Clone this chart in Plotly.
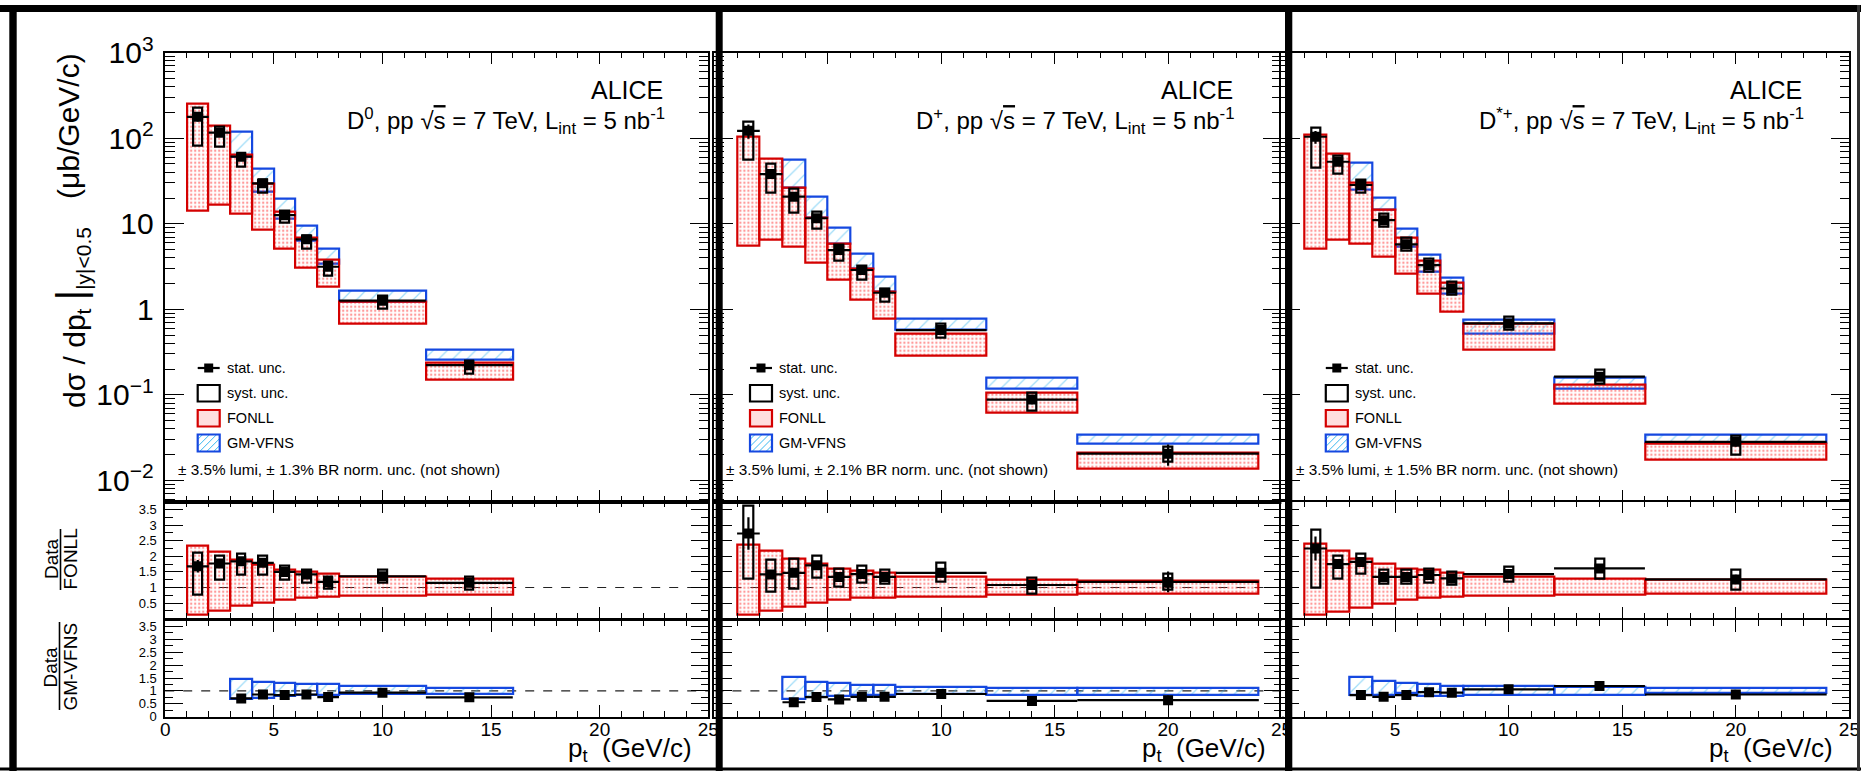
import plotly.graph_objects as go

W, H = 1861, 771
FONT = "Liberation Sans, Arial, sans-serif"

# ---------------- D0 ----------------
d0_pt_lo = [1, 2, 3, 4, 5, 6, 7, 8, 12]
d0_pt_hi = [2, 3, 4, 5, 6, 7, 8, 12, 16]
d0_xsec = [178, 116, 60.8, 29.7, 12.6, 6.58, 3.14, 1.26, 0.222]
d0_stat_rel = [0.12, 0.07, 0.06, 0.06, 0.06, 0.07, 0.08, 0.08, 0.12]
d0_syst_hi = [230, 136, 66.5, 32.4, 14.2, 7.24, 3.6, 1.43, 0.25]
d0_syst_lo = [81, 80, 46.5, 23, 10.3, 5.15, 2.5, 1.02, 0.175]
d0_fonll_hi = [251, 141.6, 64.9, 29.7, 13.7, 6.85, 3.84, 1.22, 0.239]
d0_fonll_lo = [14.1, 16.6, 13.2, 8.6, 5.15, 3.06, 1.83, 0.67, 0.149]
d0_gm_first_bin = 2
d0_gm_hi = [119, 44.5, 19.6, 9.5, 5.15, 1.65, 0.34]
d0_gm_lo = [60.8, 23.7, 11.6, 6.3, 3.44, 1.22, 0.255]
d0_r_fonll = [1.68, 1.77, 1.84, 1.79, 1.50, 1.42, 1.18, 1.36, 1.15]
d0_r_fonll_syst_hi = [2.11, 2.03, 2.07, 2.03, 1.69, 1.58, 1.36, 1.58, 1.34]
d0_r_fonll_syst_lo = [0.76, 1.24, 1.42, 1.42, 1.24, 1.15, 0.97, 1.15, 0.94]
d0_r_fonll_band_hi = [2.35, 2.16, 1.90, 1.74, 1.58, 1.52, 1.43, 1.34, 1.28]
d0_r_fonll_band_lo = [0.12, 0.25, 0.41, 0.52, 0.62, 0.68, 0.70, 0.73, 0.76]
d0_r_gm = [0.71, 0.86, 0.84, 0.86, 0.76, 0.93, 0.75]
d0_r_gm_band_hi = [1.46, 1.35, 1.31, 1.26, 1.25, 1.20, 1.13]
d0_r_gm_band_lo = [0.67, 0.73, 0.80, 0.84, 0.86, 0.89, 0.88]

# ---------------- D+ ----------------
dp_pt_lo = [1, 2, 3, 4, 5, 6, 7, 8, 12, 16]
dp_pt_hi = [2, 3, 4, 5, 6, 7, 8, 12, 16, 24]
dp_xsec = [122, 38.1, 20.7, 11.6, 4.92, 2.88, 1.56, 0.571, 0.088, 0.0205]
dp_stat_rel = [0.19, 0.10, 0.08, 0.07, 0.07, 0.07, 0.08, 0.08, 0.12, 0.28]
dp_syst_hi = [156, 50.8, 25.9, 13.8, 5.64, 3.23, 1.75, 0.684, 0.106, 0.0247]
dp_syst_lo = [56.6, 23, 13.5, 8.83, 3.69, 2.24, 1.22, 0.469, 0.065, 0.0164]
dp_fonll_hi = [104, 58.2, 26.7, 11.9, 5.8, 3.0, 1.6, 0.523, 0.105, 0.021]
dp_fonll_lo = [5.48, 6.58, 5.38, 3.54, 2.2, 1.31, 0.78, 0.284, 0.0622, 0.0138]
dp_gm_first_bin = 2
dp_gm_hi = [55.6, 20.7, 8.97, 4.43, 2.4, 0.767, 0.158, 0.0338]
dp_gm_lo = [26.7, 11.9, 5.8, 3.0, 1.6, 0.571, 0.119, 0.0265]
dp_r_fonll = [2.73, 1.42, 1.47, 1.71, 1.34, 1.43, 1.34, 1.47, 1.08, 1.18]
dp_r_fonll_syst_hi = [3.61, 1.88, 1.92, 2.01, 1.60, 1.69, 1.58, 1.79, 1.32, 1.45]
dp_r_fonll_syst_lo = [1.27, 0.85, 0.97, 1.30, 1.04, 1.15, 1.11, 1.20, 0.79, 0.94]
dp_r_fonll_band_hi = [2.38, 2.17, 1.93, 1.75, 1.60, 1.53, 1.47, 1.34, 1.26, 1.21]
dp_r_fonll_band_lo = [0.12, 0.26, 0.38, 0.51, 0.60, 0.67, 0.68, 0.72, 0.78, 0.81]
dp_r_gm = [0.56, 0.76, 0.67, 0.77, 0.77, 0.88, 0.61, 0.64]
dp_r_gm_band_hi = [1.55, 1.35, 1.29, 1.24, 1.22, 1.16, 1.10, 1.10]
dp_r_gm_band_lo = [0.70, 0.75, 0.80, 0.84, 0.84, 0.88, 0.84, 0.84]

# ---------------- D*+ ----------------
ds_pt_lo = [1, 2, 3, 4, 5, 6, 7, 8, 12, 16]
ds_pt_hi = [2, 3, 4, 5, 6, 7, 8, 12, 16, 24]
ds_xsec = [104, 53.1, 28.4, 11.0, 5.74, 3.29, 1.75, 0.684, 0.163, 0.0282]
ds_stat_rel = [0.17, 0.07, 0.06, 0.06, 0.06, 0.06, 0.07, 0.07, 0.08, 0.12]
ds_syst_hi = [131, 62, 33, 13, 6.86, 3.94, 2.1, 0.817, 0.195, 0.0329]
ds_syst_lo = [45.2, 38.8, 23.1, 9.2, 4.83, 2.75, 1.47, 0.571, 0.136, 0.0197]
ds_fonll_hi = [109, 65.3, 30.2, 14.5, 6.93, 3.66, 2.04, 0.684, 0.13, 0.027]
ds_fonll_lo = [5.15, 6.58, 5.8, 4.1, 2.58, 1.53, 0.935, 0.34, 0.078, 0.0172]
ds_gm_first_bin = 2
ds_gm_hi = [52.3, 20, 8.67, 4.31, 2.36, 0.762, 0.158, 0.0338]
ds_gm_lo = [25.2, 14.5, 5.38, 2.75, 1.53, 0.523, 0.117, 0.0275]
ds_r_fonll = [2.25, 1.75, 1.82, 1.34, 1.34, 1.40, 1.29, 1.43, 1.61, 1.26]
ds_r_fonll_syst_hi = [2.86, 2.03, 2.07, 1.58, 1.58, 1.61, 1.50, 1.68, 1.91, 1.58]
ds_r_fonll_syst_lo = [1.00, 1.29, 1.45, 1.11, 1.11, 1.15, 1.08, 1.18, 1.29, 0.92]
ds_r_fonll_band_hi = [2.41, 2.17, 1.93, 1.75, 1.61, 1.56, 1.47, 1.36, 1.28, 1.26]
ds_r_fonll_band_lo = [0.12, 0.22, 0.36, 0.49, 0.62, 0.68, 0.70, 0.73, 0.76, 0.79]
ds_r_gm = [0.84, 0.77, 0.84, 0.95, 0.93, 1.06, 1.19, 0.86]
ds_r_gm_band_hi = [1.55, 1.38, 1.31, 1.25, 1.20, 1.19, 1.16, 1.10]
ds_r_gm_band_lo = [0.84, 0.84, 0.90, 0.80, 0.80, 0.84, 0.84, 0.90]

# panel texts
species_labels = ["D<sup>0</sup>", "D<sup>+</sup>", "D<sup>*+</sup>"]
br_unc = ["1.3%", "2.1%", "1.5%"]
x_tick_vals = [0, 5, 10, 15, 20, 25]

panels = [
    dict(lo=d0_pt_lo, hi=d0_pt_hi, xsec=d0_xsec, stat=d0_stat_rel, shi=d0_syst_hi, slo=d0_syst_lo,
         fhi=d0_fonll_hi, flo=d0_fonll_lo, g0=d0_gm_first_bin, ghi=d0_gm_hi, glo=d0_gm_lo,
         rf=d0_r_fonll, rfshi=d0_r_fonll_syst_hi, rfslo=d0_r_fonll_syst_lo,
         rfbhi=d0_r_fonll_band_hi, rfblo=d0_r_fonll_band_lo,
         rg=d0_r_gm, rgbhi=d0_r_gm_band_hi, rgblo=d0_r_gm_band_lo),
    dict(lo=dp_pt_lo, hi=dp_pt_hi, xsec=dp_xsec, stat=dp_stat_rel, shi=dp_syst_hi, slo=dp_syst_lo,
         fhi=dp_fonll_hi, flo=dp_fonll_lo, g0=dp_gm_first_bin, ghi=dp_gm_hi, glo=dp_gm_lo,
         rf=dp_r_fonll, rfshi=dp_r_fonll_syst_hi, rfslo=dp_r_fonll_syst_lo,
         rfbhi=dp_r_fonll_band_hi, rfblo=dp_r_fonll_band_lo,
         rg=dp_r_gm, rgbhi=dp_r_gm_band_hi, rgblo=dp_r_gm_band_lo),
    dict(lo=ds_pt_lo, hi=ds_pt_hi, xsec=ds_xsec, stat=ds_stat_rel, shi=ds_syst_hi, slo=ds_syst_lo,
         fhi=ds_fonll_hi, flo=ds_fonll_lo, g0=ds_gm_first_bin, ghi=ds_gm_hi, glo=ds_gm_lo,
         rf=ds_r_fonll, rfshi=ds_r_fonll_syst_hi, rfslo=ds_r_fonll_syst_lo,
         rfbhi=ds_r_fonll_band_hi, rfblo=ds_r_fonll_band_lo,
         rg=ds_r_gm, rgbhi=ds_r_gm_band_hi, rgblo=ds_r_gm_band_lo),
]

# ---------------- geometry (pixels) ----------------
PANEL_X = [(165.2, 708.3), (714.4, 1281.5), (1281.4, 1849.4)]
ROW_Y = [(52.7, 501.7), (501.7, 618.7), (620.0, 716.7)]
LEG_BOX_X = [197.7, 750.0, 1325.8]
NORM_X = [176.0, 724.4, 1293.6]
ALICE_RIGHT = [664.5, 1234.5, 1803.5]
BAR_X = [(9.3, 16.7), (715.7, 722.7), (1285.0, 1292.3)]

RED_LINE = "#d40000"
BLUE_LINE = "#1548e0"


def fx(px):
    return px / W


def fy(py):
    return 1 - py / H


def axid(k):
    return ("x" if k == 1 else f"x{k}"), ("y" if k == 1 else f"y{k}")


fig = go.Figure()


def add_band(k, lo_e, hi_e, lo, hi, kind):
    xa, ya = axid(k)
    centers = [(a + b) / 2 for a, b in zip(lo_e, hi_e)]
    widths = [b - a for a, b in zip(lo_e, hi_e)]
    heights = [h - l for l, h in zip(lo, hi)]
    if kind == "fonll":
        pattern = dict(shape=".", fgcolor="#ff3030", bgcolor="rgba(0,0,0,0)", size=4, solidity=0.28)
        line = dict(color=RED_LINE, width=2.2)
    else:
        pattern = dict(shape="/", fgcolor="#3ab8f0", bgcolor="rgba(0,0,0,0)", size=10, solidity=0.12)
        line = dict(color=BLUE_LINE, width=2.2)
    fig.add_trace(go.Bar(x=centers, y=heights, base=lo, width=widths,
                         marker=dict(color="rgba(0,0,0,0)", pattern=pattern, line=line),
                         xaxis=xa, yaxis=ya, showlegend=False, hoverinfo="skip"))


def add_syst(k, lo_e, hi_e, lo, hi):
    xa, ya = axid(k)
    centers = [(a + b) / 2 for a, b in zip(lo_e, hi_e)]
    heights = [h - l for l, h in zip(lo, hi)]
    fig.add_trace(go.Bar(x=centers, y=heights, base=lo, width=0.4,
                         marker=dict(color="rgba(0,0,0,0)", line=dict(color="black", width=2.2)),
                         xaxis=xa, yaxis=ya, showlegend=False, hoverinfo="skip"))


def add_points(k, lo_e, hi_e, vals, errs):
    xa, ya = axid(k)
    centers = [(a + b) / 2 for a, b in zip(lo_e, hi_e)]
    half = [(b - a) / 2 for a, b in zip(lo_e, hi_e)]
    fig.add_trace(go.Scatter(x=centers, y=vals, mode="markers",
                             marker=dict(symbol="square", size=10, color="black"),
                             error_x=dict(type="data", array=half, thickness=2.2, width=0, color="black"),
                             error_y=dict(type="data", array=errs, thickness=2.2, width=0, color="black"),
                             xaxis=xa, yaxis=ya, showlegend=False, hoverinfo="skip"))


for p, d in enumerate(panels):
    k_top, k_r1, k_r2 = 3 * p + 1, 3 * p + 2, 3 * p + 3
    g0 = d["g0"]
    glo_e, ghi_e = d["lo"][g0:], d["hi"][g0:]
    # spectrum
    add_band(k_top, glo_e, ghi_e, d["glo"], d["ghi"], "gm")
    add_band(k_top, d["lo"], d["hi"], d["flo"], d["fhi"], "fonll")
    add_syst(k_top, d["lo"], d["hi"], d["slo"], d["shi"])
    add_points(k_top, d["lo"], d["hi"], d["xsec"], [v * r for v, r in zip(d["xsec"], d["stat"])])
    # data / FONLL
    add_band(k_r1, d["lo"], d["hi"], d["rfblo"], d["rfbhi"], "fonll")
    add_syst(k_r1, d["lo"], d["hi"], d["rfslo"], d["rfshi"])
    add_points(k_r1, d["lo"], d["hi"], d["rf"], [v * r for v, r in zip(d["rf"], d["stat"])])
    # data / GM-VFNS
    add_band(k_r2, glo_e, ghi_e, d["rgblo"], d["rgbhi"], "gm")
    add_points(k_r2, glo_e, ghi_e, d["rg"], [v * r for v, r in zip(d["rg"], d["stat"][g0:])])

layout = dict(width=W, height=H, autosize=False,
              margin=dict(l=0, r=0, t=0, b=0, pad=0, autoexpand=False),
              paper_bgcolor="white", plot_bgcolor="white", barmode="overlay", bargap=0,
              font=dict(family=FONT, color="black"), showlegend=False)

for p in range(3):
    for r in range(3):
        k = 3 * p + r + 1
        xname = "xaxis" if k == 1 else f"xaxis{k}"
        yname = "yaxis" if k == 1 else f"yaxis{k}"
        xa, ya = axid(k)
        show_x = (r == 2)
        xticktext = [str(v) for v in x_tick_vals]
        if p > 0:
            xticktext[0] = ""
        layout[xname] = dict(
            domain=[fx(PANEL_X[p][0]), fx(PANEL_X[p][1])], anchor=ya, range=[0, 25],
            automargin=False,
            showline=True, linecolor="black", linewidth=1.5, mirror="ticks",
            ticks="inside", ticklen=12, tickwidth=1.3, tickcolor="black",
            tickmode="array", tickvals=x_tick_vals, ticktext=xticktext,
            minor=dict(ticks="inside", ticklen=6, tickwidth=1.2, tickcolor="black",
                       tickmode="linear", tick0=0, dtick=1),
            showticklabels=show_x, tickfont=dict(size=19, family=FONT),
            ticklabelstandoff=-5,
            showgrid=False, zeroline=False, fixedrange=True)
        ydom = [fy(ROW_Y[r][1]), fy(ROW_Y[r][0])]
        if r == 0:
            layout[yname] = dict(
                domain=ydom, anchor=xa, type="log", range=[-2.25, 3],
                automargin=False,
                showline=True, linecolor="black", linewidth=1.5, mirror="ticks",
                ticks="inside", ticklen=19, tickwidth=1.3, tickcolor="black",
                tickmode="linear", tick0=0, dtick=1, exponentformat="power",
                minor=dict(ticks="inside", ticklen=10, tickwidth=1.2, tickcolor="black"),
                showticklabels=(p == 0), tickfont=dict(size=24, family=FONT),
                ticklabelstandoff=5,
                showgrid=False, zeroline=False, fixedrange=True)
        else:
            tv = [0.5, 1, 1.5, 2, 2.5, 3, 3.5] if r == 1 else [0, 0.5, 1, 1.5, 2, 2.5, 3, 3.5]
            layout[yname] = dict(
                domain=ydom, anchor=xa, range=[0, 3.75],
                automargin=False,
                showline=True, linecolor="black", linewidth=1.5, mirror="ticks",
                ticks="inside", ticklen=18, tickwidth=1.3, tickcolor="black",
                tickmode="array", tickvals=tv,
                minor=dict(ticks="inside", ticklen=8, tickwidth=1.2, tickcolor="black",
                           tickmode="linear", tick0=0, dtick=0.25),
                showticklabels=(p == 0), tickfont=dict(size=13, family=FONT),
                ticklabelstandoff=4,
                showgrid=False, zeroline=False, fixedrange=True)

shapes = []
annotations = []


def rect_px(x0, y0, x1, y1, fill=None, line=None, lw=0, layer="above"):
    shapes.append(dict(type="rect", xref="paper", yref="paper",
                       x0=fx(x0), x1=fx(x1), y0=fy(y1), y1=fy(y0),
                       fillcolor=fill if fill else "rgba(0,0,0,0)",
                       line=dict(color=line if line else "rgba(0,0,0,0)", width=lw), layer=layer))


def line_px(x0, y0, x1, y1, color="black", width=1.5, dash="solid"):
    shapes.append(dict(type="line", xref="paper", yref="paper",
                       x0=fx(x0), x1=fx(x1), y0=fy(y0), y1=fy(y1),
                       line=dict(color=color, width=width, dash=dash), layer="above"))


def text_px(x, y, txt, size, xanchor="left", yanchor="middle", angle=0):
    annotations.append(dict(xref="paper", yref="paper", x=fx(x), y=fy(y), text=txt,
                            showarrow=False, xanchor=xanchor, yanchor=yanchor, textangle=angle,
                            font=dict(size=size, family=FONT, color="black")))


# dashed unity lines in the ratio pads
for p in range(3):
    for r in (1, 2):
        k = 3 * p + r + 1
        xa, ya = axid(k)
        shapes.append(dict(type="line", xref=f"{xa} domain", yref=ya, x0=0, x1=1, y0=1, y1=1,
                           line=dict(color="#222222", width=1.2, dash="dash"), layer="below"))

for p in range(3):
    xr = PANEL_X[p][1]
    text_px(ALICE_RIGHT[p], 90, "ALICE", 25, xanchor="right")
    text_px(ALICE_RIGHT[p] + 2, 121,
            f"{species_labels[p]}, pp √<span style='text-decoration:overline'>s</span> = 7 TeV, "
            f"L<sub>int</sub> = 5 nb<sup>-1</sup>", 24, xanchor="right")
    # legend
    bx = LEG_BOX_X[p]
    tx = bx + 27
    line_px(bx, 368, bx + 22, 368, width=2.2)
    rect_px(bx + 6.5, 363.5, bx + 15.5, 372.5, fill="black")
    text_px(tx, 368, "stat. unc.", 14.5)
    rect_px(bx, 385, bx + 22, 401.5, line="black", lw=2.2)
    text_px(tx, 393, "syst. unc.", 14.5)
    rect_px(bx, 410, bx + 22, 426.5, fill="rgba(255,160,160,0.35)", line=RED_LINE, lw=2.2)
    text_px(tx, 418.3, "FONLL", 14.5)
    x0b, x1b, ytb, ybb = bx, bx + 22, 434.5, 451.5
    for off in (-12, -5, 2, 9, 16):
        t0 = max(0.0, -off)
        t1 = min(x1b - (x0b + off), ybb - ytb)
        if t1 > t0:
            line_px(x0b + off + t0, ybb - t0, x0b + off + t1, ybb - t1, color="#3ab8f0", width=1)
    rect_px(x0b, ytb, x1b, ybb, line=BLUE_LINE, lw=2.2)
    text_px(tx, 443, "GM-VFNS", 14.5)
    text_px(NORM_X[p], 469.5, f"± 3.5% lumi, ± {br_unc[p]} BR norm. unc. (not shown)", 15.3)
    # x title
    text_px(xr - 14, 768, "p<sub>t</sub>  (GeV/c)", 26, xanchor="right", yanchor="bottom")

# y titles
text_px(69, 126, "(μb/GeV/c)", 30, xanchor="center", angle=-90)
text_px(72, 318, "dσ / dp<sub>t</sub> <span style='font-size:40px'>|</span><sub>|y|&lt;0.5</sub>",
        30, xanchor="center", angle=-90)
text_px(51, 559, "Data", 19, xanchor="center", angle=-90)
line_px(60.5, 529, 60.5, 590, width=1.6)
text_px(70, 559.5, "FONLL", 19, xanchor="center", angle=-90)
text_px(50, 667.5, "Data", 19, xanchor="center", angle=-90)
line_px(59.5, 622, 59.5, 710, width=1.6)
text_px(70, 666.5, "GM-VFNS", 19, xanchor="center", angle=-90)

# outer frames
rect_px(0, 5, W, 12, fill="black")
for (a, b) in BAR_X:
    rect_px(a, 5, b, 771, fill="black")
rect_px(0, 767.5, W, 770.5, fill="black")
rect_px(1857, 5, 1860, 771, fill="#333333")

layout["shapes"] = shapes
layout["annotations"] = annotations
fig.update_layout(**layout)
fig.write_html("out.html",
               post_script="document.body.style.margin='0';document.body.style.overflow='hidden';")
